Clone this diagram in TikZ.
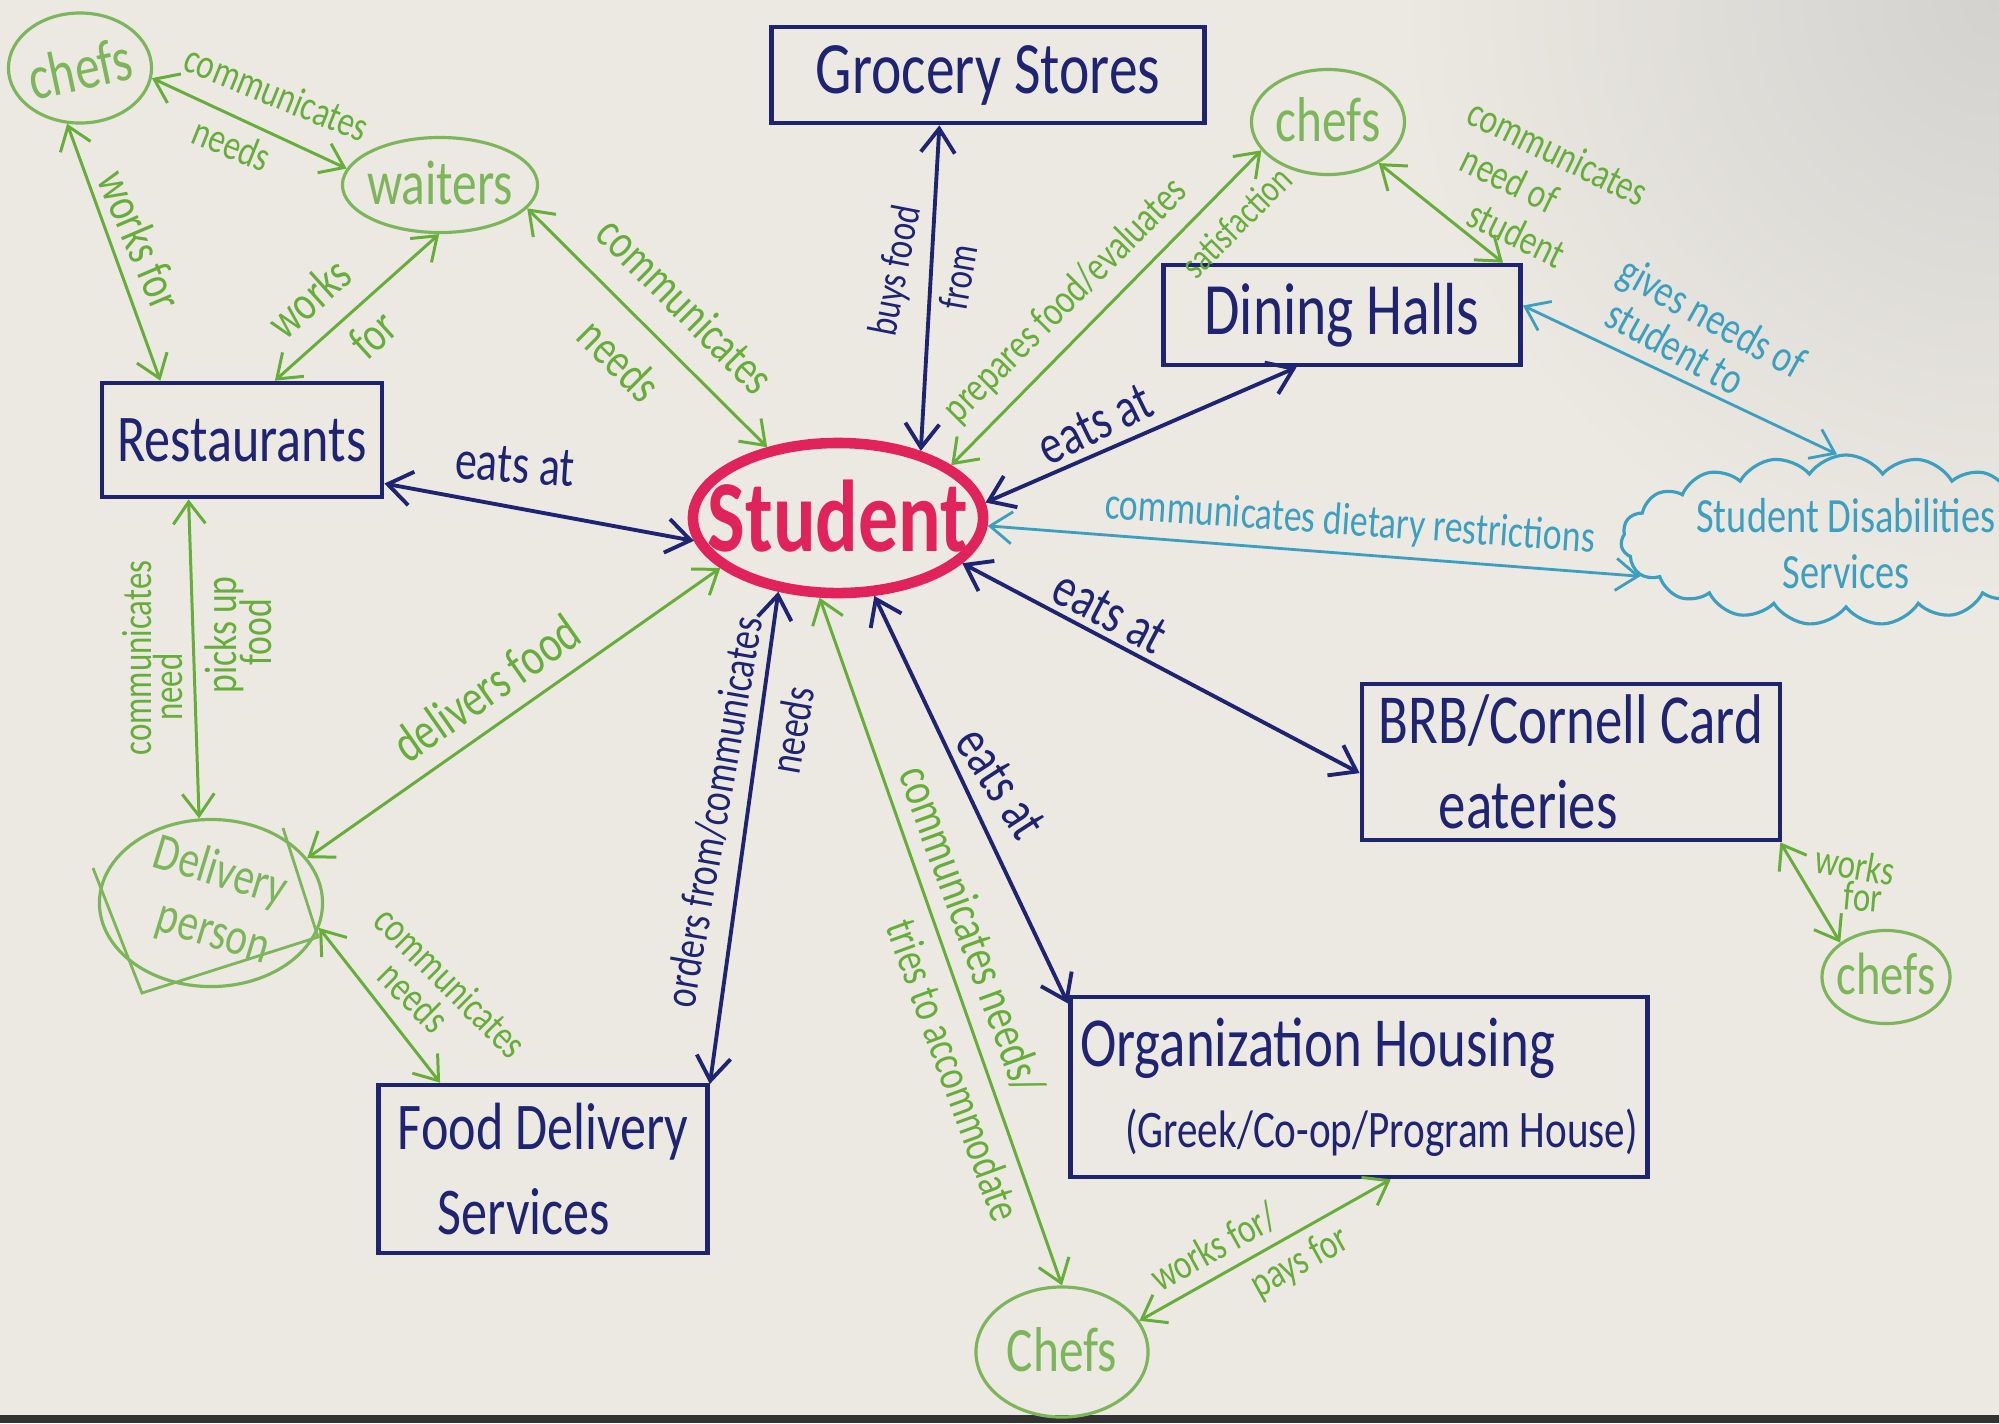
\documentclass[tikz,border=0pt]{standalone}
\usepackage{fontspec}
\newfontfamily\handfont{Carlito}[FakeStretch=0.78]
\usetikzlibrary{arrows.meta,shapes.geometric,shapes.symbols}
\definecolor{paper}{HTML}{ECE9E2}
\definecolor{shadow}{HTML}{D3D2CF}
\definecolor{inkblue}{HTML}{1F2472}
\definecolor{pengreen}{HTML}{66AD3A}
\definecolor{lightgreen}{HTML}{7DB65A}
\definecolor{pencyan}{HTML}{3C9FC0}
\definecolor{penred}{HTML}{E0245A}
\newcommand{\hw}[2]{\handfont\fontsize{#1}{#2}\selectfont}
% text that takes no room, so the shape keeps its minimum size
\newcommand{\zbox}[2]{\makebox[0pt]{\raisebox{#1}[0pt][0pt]{#2}}}
\tikzset{
  boxnode/.style={rectangle, draw=inkblue, line width=1.3pt, text=inkblue, font=\hw{21}{25}, inner sep=2pt},
  gnode/.style={ellipse, draw=lightgreen, line width=0.9pt, text=lightgreen, font=\hw{18}{20}, inner sep=0pt},
  stunode/.style={ellipse, draw=penred, line width=3pt, text=penred, font=\hw{29}{31}\bfseries, inner sep=0pt},
  cloudnode/.style={cloud, cloud puffs=19, cloud puff arc=110, draw=pencyan, line width=0.9pt, text=pencyan, font=\hw{14}{16}, inner sep=0pt},
  blink/.style={{Straight Barb[length=2.4mm,width=3.4mm]}-{Straight Barb[length=2.4mm,width=3.4mm]}, draw=inkblue, line width=1.1pt},
  glink/.style={{Straight Barb[length=2.2mm,width=3.2mm]}-{Straight Barb[length=2.2mm,width=3.2mm]}, draw=pengreen, line width=0.85pt},
  clink/.style={{Straight Barb[length=2.2mm,width=3.2mm]}-{Straight Barb[length=2.2mm,width=3.2mm]}, draw=pencyan, line width=0.8pt},
  blbl/.style={font=\hw{13}{15}, text=inkblue, inner sep=0pt},
  eatlbl/.style={font=\hw{16}{18}, text=inkblue, inner sep=0pt},
  glbl/.style={font=\hw{12}{13}, text=pengreen, inner sep=0pt},
  glblbig/.style={font=\hw{14}{15}, text=pengreen, inner sep=0pt},
  clbl/.style={font=\hw{13}{15}, text=pencyan, inner sep=0pt},
}
\begin{document}
\begin{tikzpicture}[x=0.01cm,y=-0.01cm]
  \useasboundingbox (0,0) rectangle (1999,1423);
  \clip (0,0) rectangle (1999,1423);
  \fill[paper] (0,0) rectangle (1999,1423);
  \shade[inner color=shadow, outer color=paper] (1999,0) circle (600);
  \fill[black!80] (0,1415) rectangle (1999,1423);

  % places and people
  \node[gnode, minimum width=1.43cm, minimum height=1.10cm] (chefsA) at (80,68) {\zbox{-0.35em}{\rotatebox[origin=c]{12}{chefs}}};
  \node[gnode, minimum width=1.95cm, minimum height=0.95cm] (waiters) at (440,185) {\zbox{-0.3em}{waiters}};
  \node[boxnode, minimum width=4.33cm, minimum height=0.96cm] (grocery) at (988,75) {Grocery Stores};
  \node[gnode, minimum width=1.53cm, minimum height=1.05cm] (chefsB) at (1328,122) {\zbox{-0.3em}{chefs}};
  \node[boxnode, minimum width=3.57cm, minimum height=1.00cm] (dining) at (1342,315) {Dining Halls};
  \node[boxnode, minimum width=2.80cm, minimum height=1.14cm, font=\hw{19}{22}] (restaurants) at (242,440) {Restaurants};
  \node[stunode, minimum width=2.90cm, minimum height=1.50cm] (student) at (838,518) {\zbox{-0.33em}{Student}};
  \node[cloudnode, minimum width=4.5cm, minimum height=1.70cm] (sds) at (1846,540) {\zbox{-0.45em}{\begin{tabular}{@{}c@{}}Student Disabilities\\Services\end{tabular}}};
  \node[boxnode, minimum width=4.18cm, minimum height=1.56cm, align=left, font=\hw{20}{24}] (brb) at (1571,762) {BRB/Cornell Card\\\hspace*{0.6cm}eateries};
  \node[gnode, minimum width=1.28cm, minimum height=0.93cm, font=\hw{17}{19}] (chefsC) at (1886,977) {\zbox{-0.3em}{chefs}};
  \node[gnode, minimum width=2.23cm, minimum height=1.67cm, font=\hw{15}{17}] (delivery) at (211,903) {\zbox{-0.25em}{\rotatebox[origin=c]{-17}{\begin{tabular}{@{}r@{}}Delivery\\person\end{tabular}}}};
  \draw[lightgreen, line width=0.8pt] (93,868) -- (142,993) -- (318,937) -- (283,828);
  \node[boxnode, minimum width=3.29cm, minimum height=1.68cm, align=left, font=\hw{19}{24}] (fooddel) at (543,1169) {Food Delivery\\\hspace*{0.4cm}Services};
  \node[boxnode, minimum width=5.77cm, minimum height=1.80cm, align=left, font=\hw{20}{23}] (orghousing) at (1359,1087) {Organization Housing\\\hspace*{0.45cm}{\fontsize{15}{17}\selectfont(Greek/Co-op/Program House)}};
  \node[gnode, minimum width=1.72cm, minimum height=1.30cm] (chefsD) at (1062,1352) {\zbox{-0.3em}{Chefs}};

  % green links
  \draw[glink] (chefsA.-8) -- (waiters.170);
  \draw[glink] (chefsA.-103) -- (restaurants.144);
  \draw[glink] (waiters.-91) -- (restaurants.61);
  \draw[glink] (waiters.-15) -- (student.135);
  \draw[glink] (chefsB.203) -- (student.25);
  \draw[glink] (chefsB.-39) -- (dining.18);
  \draw[glink] (student.203) -- (delivery.25);
  \draw[glink] (student.-103) -- (chefsD.north);
  \draw[glink] (restaurants.-132) -- (delivery.98);
  \draw[glink] (delivery.-13) -- (fooddel.140);
  \draw[glink] (orghousing.-71) -- (chefsD.22);
  \draw[glink] (brb.-21) -- (chefsC.143);

  % blue links
  \draw[blink] (grocery.-134) -- (student.39);
  \draw[blink] (restaurants.-17) -- (student.189);
  \draw[blink] (student.6) -- (dining.-131);
  \draw[blink] (student.-20) -- (brb.183);
  \draw[blink] (student.-65) -- (orghousing.164);
  \draw[blink] (student.-129) -- (fooddel.27);

  % cyan links
  \draw[clink] (dining.3) -- (sds.96);
  \draw[clink] (student.-3) -- (sds.190);

  % green labels
  \node[glbl, rotate=-22] (lcommA) at (277,93) {communicates};
  \node[glbl, rotate=-22] (lneedsA) at (232,144) {needs};
  \node[glblbig, rotate=-67] (lworksA) at (141,240) {works for};
  \node[glblbig, rotate=42] (lworksB) at (309,298) {works};
  \node[glblbig, rotate=42] (lforB) at (373,334) {for};
  \node[glblbig, rotate=-45] (lcommW) at (686,305) {communicates};
  \node[glblbig, rotate=-45] (lneedsW) at (620,360) {needs};
  \node[glbl, rotate=45] (lprep) at (1066,301) {prepares food/evaluates};
  \node[glbl, rotate=45, font=\hw{11}{12}] (lsatis) at (1236,222) {satisfaction};
  \node[glbl, rotate=-26, align=left] (lneedof) at (1538,193) {communicates\\\hspace*{0.15cm}need of\\\hspace*{0.45cm}student};
  \node[glblbig, rotate=35, font=\hw{15}{16}] (ldeliv) at (486,688) {delivers food};
  \node[glbl, rotate=90] (lcommR) at (137,658) {communicates};
  \node[glbl, rotate=90] (lneedR) at (168,687) {need};
  \node[glbl, rotate=90, font=\hw{13}{14}] (lpicks) at (224,635) {picks up};
  \node[glbl, rotate=90, font=\hw{13}{14}] (lfood) at (256,632) {food};
  \node[glbl, rotate=-45] (lcommF) at (451,982) {communicates};
  \node[glbl, rotate=-45] (lneedsF) at (414,997) {needs};
  \node[glblbig, rotate=-70] (lcommC) at (972,930) {communicates needs/};
  \node[glbl, rotate=-70, font=\hw{13}{14}] (ltries) at (954,1070) {tries to accommodate};
  \node[glbl, rotate=29] (lworksO) at (1214,1247) {works for/};
  \node[glbl, rotate=29] (lpays) at (1300,1263) {pays for};
  \node[glbl, rotate=-10] (lworksC) at (1855,865) {works};
  \node[glbl, rotate=-5] (lforC) at (1863,897) {for};

  % blue labels
  \node[eatlbl, rotate=-4] (leatR) at (515,465) {eats at};
  \node[eatlbl, rotate=26] (leatD) at (1095,424) {eats at};
  \node[eatlbl, rotate=-28] (leatB) at (1110,612) {eats at};
  \node[eatlbl, rotate=-57] (leatO) at (1001,783) {eats at};
  \node[blbl, rotate=79, font=\hw{12}{13}] (lbuys) at (897,271) {buys food};
  \node[blbl, rotate=80, font=\hw{12}{13}] (lfrom) at (958,277) {from};
  \node[blbl, rotate=80] (lorders) at (714,812) {orders from/communicates};
  \node[blbl, rotate=80] (lneedsO) at (792,730) {needs};

  % cyan labels
  \node[clbl, rotate=-4] (ldiet) at (1350,523) {communicates dietary restrictions};
  \node[clbl, rotate=-29, align=left, font=\hw{13}{12.5}] (lgives) at (1702,336) {gives needs of\\\hspace*{0.1cm}student to};
\end{tikzpicture}
\end{document}
